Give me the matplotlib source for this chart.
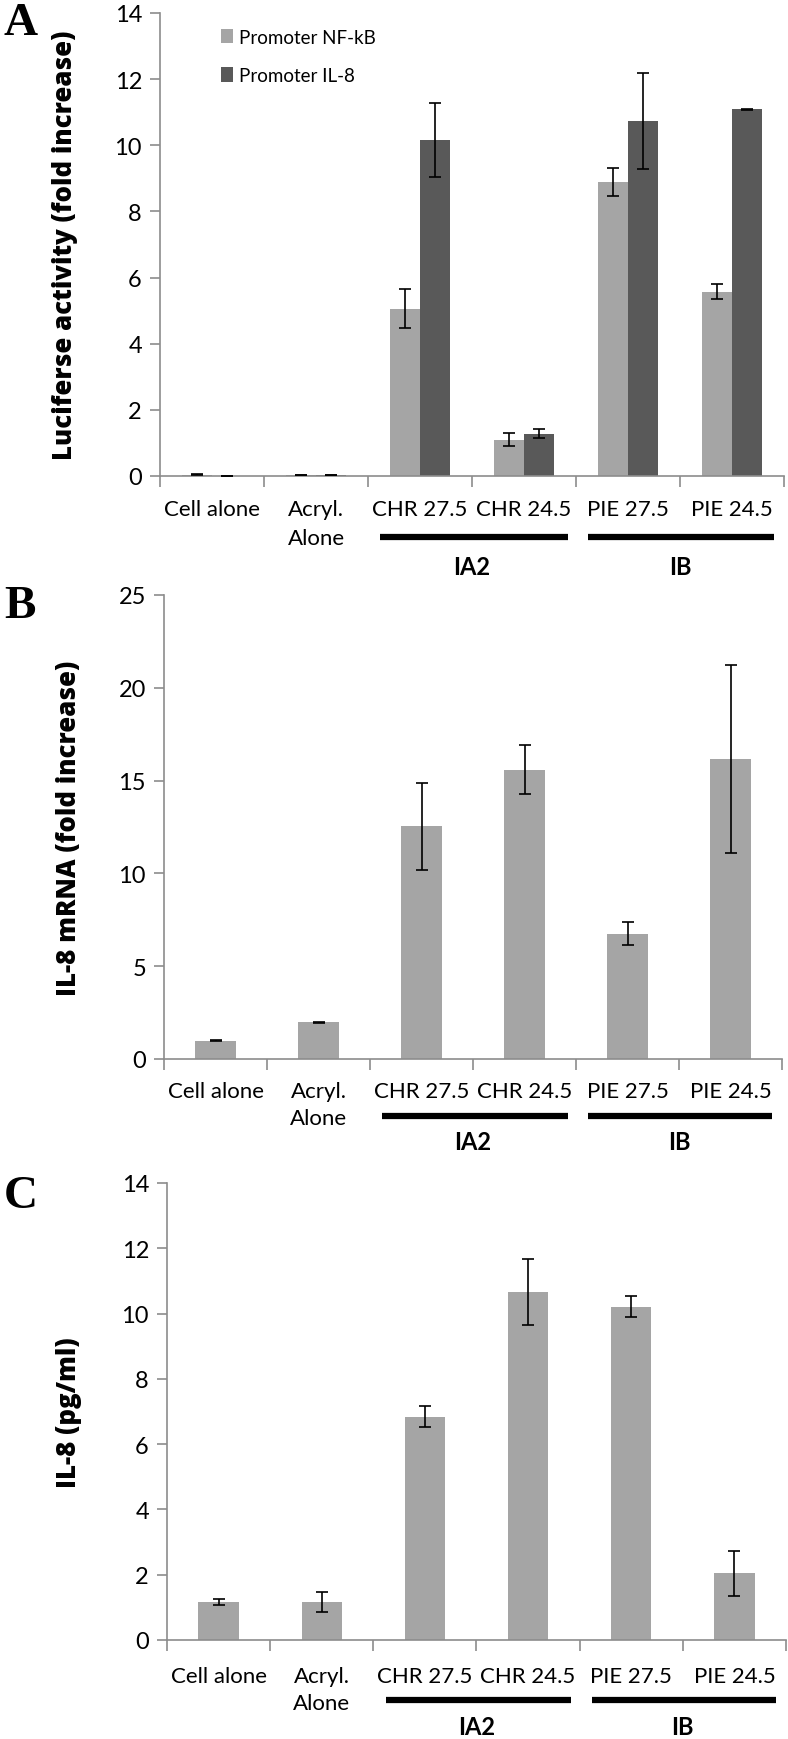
import matplotlib
matplotlib.use("Agg")
import matplotlib.pyplot as plt
import matplotlib.transforms as mtransforms
import numpy as np

plt.rcParams['font.family'] = ['Lato', 'DejaVu Sans']

categories = ["Cell alone", "Acryl.\nAlone", "CHR 27.5", "CHR 24.5", "PIE 27.5", "PIE 24.5"]
groups = ["IA2", "IB"]

# Panel A
a_nfkb = [0.04, 0.03, 5.06, 1.10, 8.89, 5.57]
a_nfkb_err = [0.01, 0.01, 0.59, 0.19, 0.41, 0.23]
a_il8 = [0.0, 0.03, 10.16, 1.28, 10.73, 11.09]
a_il8_err = [0.0, 0.01, 1.12, 0.13, 1.45, 0.02]
a_series = ["Promoter NF-kB", "Promoter IL-8"]

# Panel B
b_vals = [0.98, 1.98, 12.55, 15.59, 6.75, 16.15]
b_err = [0.02, 0.03, 2.34, 1.32, 0.63, 5.07]

# Panel C
c_vals = [1.16, 1.16, 6.84, 10.66, 10.21, 2.04]
c_err = [0.10, 0.31, 0.33, 1.02, 0.33, 0.70]

W, H = 788, 1740
fig = plt.figure(figsize=(W / 100, H / 100), dpi=100)

LIGHT = "#a5a5a5"
DARK = "#595959"
AXC = "#8c8c8c"

def make_ax(left, right, top, bottom):
    return fig.add_axes([left / W, 1 - bottom / H, (right - left) / W, (bottom - top) / H])

def style(ax, ymax, step, ylabel, ylabel_x):
    n = len(categories)
    ax.set_xlim(-0.5, n - 0.5)
    ax.set_ylim(0, ymax)
    ax.set_yticks(np.arange(0, ymax + 0.001, step))
    ax.set_yticklabels([str(int(v)) for v in np.arange(0, ymax + 0.001, step)], fontsize=17)
    for s in ["top", "right"]:
        ax.spines[s].set_visible(False)
    for s in ["left", "bottom"]:
        ax.spines[s].set_color(AXC)
        ax.spines[s].set_linewidth(1.2)
    ax.tick_params(axis="y", colors=AXC, length=7, width=1.2, labelcolor="black", pad=6)
    ax.set_xticks(np.arange(-0.5, n, 1.0))
    ax.set_xticklabels([])
    ax.tick_params(axis="x", colors=AXC, length=8, width=1.2)
    ax.set_ylabel(ylabel, fontsize=18.5, fontweight="heavy", family=["Open Sans", "DejaVu Sans"])
    ax.yaxis.set_label_coords(ylabel_x, 0.5, transform=mtransforms.blended_transform_factory(
        fig.transFigure, ax.transAxes))

def under(ax, off1, off2, offbar, offgrp):
    xt = ax.get_xaxis_transform()
    for i, lab in enumerate(categories):
        lines = lab.split("\n")
        tr = mtransforms.offset_copy(xt, fig=fig, y=-off1, units="dots")
        ax.text(i, 0, lines[0], transform=tr, ha="center", va="center", fontsize=16)
        if len(lines) > 1:
            tr2 = mtransforms.offset_copy(xt, fig=fig, y=-off2, units="dots")
            ax.text(i, 0, lines[1], transform=tr2, ha="center", va="center", fontsize=16)
    trb = mtransforms.offset_copy(xt, fig=fig, y=-offbar, units="dots")
    for (x0, x1) in [(1.62, 3.42), (3.62, 5.40)]:
        ax.plot([x0, x1], [0, 0], transform=trb, color="black", lw=4.5,
                solid_capstyle="butt", clip_on=False)
    trg = mtransforms.offset_copy(xt, fig=fig, y=-offgrp, units="dots")
    for g, xc in zip(groups, [2.5, 4.5]):
        ax.text(xc, 0, g, transform=trg, ha="center", va="center", fontsize=17,
                fontweight="bold")

x = np.arange(len(categories))

# ---- Panel A
axA = make_ax(160, 784, 14, 477)
w = 0.285
axA.bar(x - w / 2, a_nfkb, w, color=LIGHT, label=a_series[0], zorder=2)
axA.bar(x + w / 2, a_il8, w, color=DARK, label=a_series[1], zorder=2)
axA.errorbar(x - w / 2, a_nfkb, yerr=a_nfkb_err, fmt="none", ecolor="black",
             elinewidth=1.2, capsize=4, capthick=1.2, zorder=3)
axA.errorbar(x + w / 2, a_il8, yerr=a_il8_err, fmt="none", ecolor="black",
             elinewidth=1.2, capsize=4, capthick=1.2, zorder=3)
style(axA, 14, 2, "Luciferse activity (fold increase)", 78 / W)
under(axA, 33, 62, 61, 91)
leg = axA.legend(loc="upper left", bbox_to_anchor=(214 / W, 1 - 22 / H), bbox_transform=fig.transFigure,
                 frameon=False, fontsize=13.5, handlelength=0.6, handleheight=0.8,
                 handletextpad=0.35, labelspacing=1.15, borderaxespad=0)

# ---- Panel B
axB = make_ax(164, 782, 596, 1060)
axB.bar(x, b_vals, 0.4, color=LIGHT, zorder=2)
axB.errorbar(x, b_vals, yerr=b_err, fmt="none", ecolor="black",
             elinewidth=1.2, capsize=4, capthick=1.2, zorder=3)
style(axB, 25, 5, "IL-8 mRNA (fold increase)", 82 / W)
under(axB, 32, 59, 57, 82)

# ---- Panel C
axC = make_ax(167, 786, 1184, 1641)
axC.bar(x, c_vals, 0.39, color=LIGHT, zorder=2)
axC.errorbar(x, c_vals, yerr=c_err, fmt="none", ecolor="black",
             elinewidth=1.2, capsize=4, capthick=1.2, zorder=3)
style(axC, 14, 2, "IL-8 (pg/ml)", 82 / W)
under(axC, 36, 63, 60, 87)

# panel letters
for lab, yy in [("A", 24), ("B", 607), ("C", 1197)]:
    fig.text(4 / W, 1 - yy / H, lab, fontsize=34, fontweight="bold",
             family=["Liberation Serif", "DejaVu Serif"], ha="left", va="center")

fig.savefig("out.png", dpi=100)
